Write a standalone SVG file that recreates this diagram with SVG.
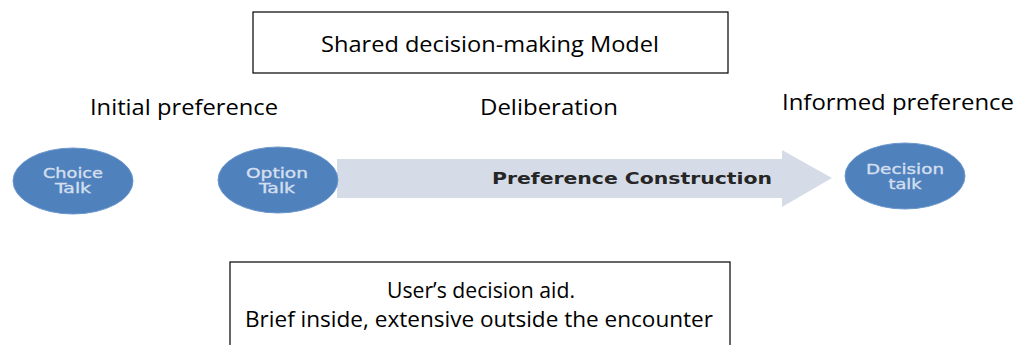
<svg xmlns="http://www.w3.org/2000/svg" width="1016" height="345" viewBox="0 0 1016 345">
<style>
.box{fill:#fff;stroke:#000;stroke-width:1.2}
.lbl{font-family:"Open Sans","Liberation Sans",sans-serif;font-size:22px;fill:#000;text-anchor:middle}
.node{fill:#4f81bd;stroke:#6b97cc;stroke-width:1}
.nt{font-family:"DejaVu Sans",sans-serif;font-size:13.5px;fill:#d3dfee;stroke:#d3dfee;stroke-width:0.35;text-anchor:middle}
.arrow{fill:#d6dce7}
.at{font-family:"DejaVu Sans",sans-serif;font-weight:bold;font-size:16px;fill:#262626;text-anchor:middle}
</style>
<rect width="1016" height="345" fill="#fff"/>
<g id="title">
<rect class="box" x="253" y="12" width="475" height="61"/>
<text class="lbl" x="490" y="52" font-size="25" textLength="338" lengthAdjust="spacingAndGlyphs">Shared decision-making Model</text>
</g>
<g id="labels">
<text class="lbl" x="184" y="115" textLength="188" lengthAdjust="spacingAndGlyphs">Initial preference</text>
<text class="lbl" x="549" y="115" textLength="138" lengthAdjust="spacingAndGlyphs">Deliberation</text>
<text class="lbl" x="898" y="110" textLength="232" lengthAdjust="spacingAndGlyphs">Informed preference</text>
</g>
<g id="connectors">
<g id="preference-construction">
<path class="arrow" d="M337,159 H782 V150 L832,178 L782,207 V198 H337 Z"/>
<text class="at" x="632" y="184" textLength="280" lengthAdjust="spacingAndGlyphs">Preference Construction</text>
</g>
</g>
<g id="choice-talk">
<ellipse class="node" cx="73" cy="181" rx="60" ry="33"/>
<text class="nt" x="73" y="178" textLength="60" lengthAdjust="spacingAndGlyphs">Choice</text>
<text class="nt" x="73" y="193" textLength="36" lengthAdjust="spacingAndGlyphs">Talk</text>
</g>
<g id="option-talk">
<ellipse class="node" cx="278" cy="180" rx="60" ry="33"/>
<text class="nt" x="277" y="178" textLength="62" lengthAdjust="spacingAndGlyphs">Option</text>
<text class="nt" x="277" y="193" textLength="36" lengthAdjust="spacingAndGlyphs">Talk</text>
</g>
<g id="decision-talk">
<ellipse class="node" cx="905" cy="176" rx="60" ry="33"/>
<text class="nt" x="905" y="174" textLength="78" lengthAdjust="spacingAndGlyphs">Decision</text>
<text class="nt" x="905" y="189" textLength="33" lengthAdjust="spacingAndGlyphs">talk</text>
</g>
<g id="decision-aid">
<rect class="box" x="230" y="262" width="500" height="100"/>
<text class="lbl" x="481" y="298" font-size="23" textLength="188" lengthAdjust="spacingAndGlyphs">User’s decision aid.</text>
<text class="lbl" x="479" y="327" font-size="23" textLength="468" lengthAdjust="spacingAndGlyphs">Brief inside, extensive outside the encounter</text>
</g>
</svg>
